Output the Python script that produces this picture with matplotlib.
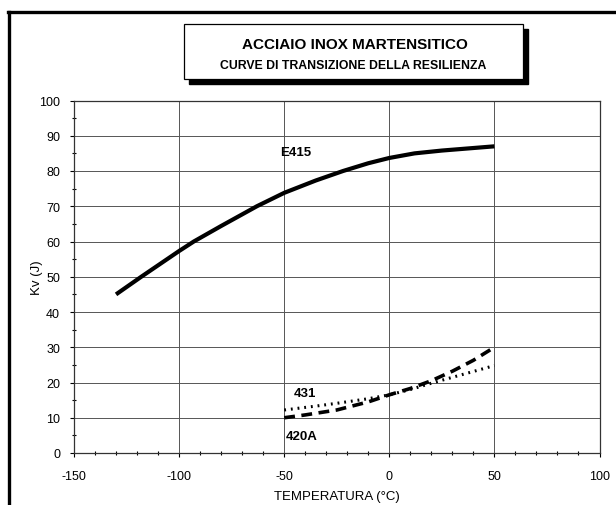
import matplotlib
matplotlib.use("Agg")
import matplotlib.pyplot as plt
from matplotlib.patches import Rectangle
from matplotlib.lines import Line2D
from matplotlib.ticker import MultipleLocator

# ---- data ----
e415_t = [-130, -118, -100, -93, -80, -63, -50, -35, -22, -10, 0, 12, 25, 50]
e415_kv = [45, 50, 57.3, 60, 64.4, 70, 73.8, 77.3, 80, 82.2, 83.7, 85, 85.8, 87]

a420_t = [-50, -40, -25, -10, 0, 10, 20, 30, 40, 50]
a420_kv = [10, 10.8, 12.2, 14.5, 16.5, 18.3, 20.5, 23.2, 26.3, 30]

a431_t = [-50, -35, -25, -10, 0, 10, 20, 35, 50]
a431_kv = [12.2, 13.3, 14.1, 15.4, 16.5, 18.0, 19.8, 22.3, 24.8]

x_ticks = [-150, -100, -50, 0, 50, 100]
y_ticks = [0, 10, 20, 30, 40, 50, 60, 70, 80, 90, 100]

title1 = "ACCIAIO INOX MARTENSITICO"
title2 = "CURVE DI TRANSIZIONE DELLA RESILIENZA"
xlabel = "TEMPERATURA (°C)"
ylabel = "Kv (J)"

plt.rcParams['font.family'] = ['Liberation Sans', 'DejaVu Sans']

W, H = 616, 506
fig = plt.figure(figsize=(W / 100, H / 100), dpi=100)

def fx(px):
    return px / W

def fy(py):
    return 1 - py / H

ax = fig.add_axes([fx(74), fy(454), fx(599.5) - fx(74), fy(101.5) - fy(454)])
ax.set_xlim(-150, 100)
ax.set_ylim(0, 100)
ax.set_xticks(x_ticks)
ax.set_yticks(y_ticks)
ax.set_xticklabels([str(v) for v in x_ticks])
ax.set_yticklabels([str(v) for v in y_ticks])
ax.xaxis.set_minor_locator(MultipleLocator(10))
ax.yaxis.set_minor_locator(MultipleLocator(5))
ax.tick_params(which='major', direction='out', length=3, width=0.8, labelsize=9, pad=7)
ax.tick_params(axis='x', which='major', pad=9)
ax.tick_params(which='minor', direction='inout', length=3, width=0.8)
ax.grid(True, which='major', color='#555555', linewidth=0.7)
ax.set_axisbelow(True)
for s in ax.spines.values():
    s.set_linewidth(0.9)
    s.set_color('#333333')

ax.plot(e415_t, e415_kv, color='black', linewidth=3.0, solid_capstyle='butt')
ax.plot(a420_t, a420_kv, color='black', linewidth=2.6, linestyle=(0, (3, 1.8)))
ax.plot(a431_t, a431_kv, color='black', linewidth=2.2, linestyle=(0, (0.6, 1.6)))

ax.text(-44.5, 85.4, "E415", fontsize=9.5, fontweight='bold', ha='center', va='center')
ax.text(-40, 17.0, "431", fontsize=9.5, fontweight='bold', ha='center', va='center')
ax.text(-41.5, 4.9, "420A", fontsize=9.5, fontweight='bold', ha='center', va='center')

ax.set_xlabel(xlabel, fontsize=9.5, labelpad=6)
ax.set_ylabel(ylabel, fontsize=9.5, labelpad=-3)

# outer frame
fig.add_artist(Line2D([fx(8.5), fx(8.5)], [fy(13), fy(506)], color='black', linewidth=2.4))
fig.add_artist(Line2D([fx(7.5), fx(616)], [fy(12.5), fy(12.5)], color='black', linewidth=2.4))

# title box with shadow
bx0, by0, bx1, by1 = 184, 25, 523, 80
fig.add_artist(Rectangle((fx(bx0 + 5), fy(by1 + 5)), fx(bx1) - fx(bx0), fy(by0) - fy(by1),
                         facecolor='black', edgecolor='black', transform=fig.transFigure))
fig.add_artist(Rectangle((fx(bx0), fy(by1)), fx(bx1) - fx(bx0), fy(by0) - fy(by1),
                         facecolor='white', edgecolor='black', linewidth=0.9,
                         transform=fig.transFigure))
fig.text(fx(355), fy(45), title1, fontsize=11, fontweight='bold', ha='center', va='center')
fig.text(fx(353), fy(66), title2, fontsize=8.8, fontweight='bold', ha='center', va='center')

fig.savefig("out.png", dpi=100)
